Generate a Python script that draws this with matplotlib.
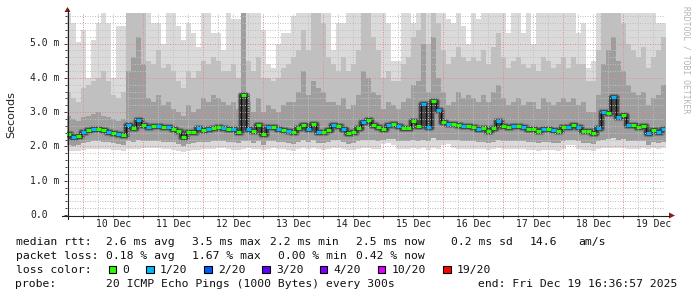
import numpy as np
import matplotlib
matplotlib.use("Agg")
import matplotlib.pyplot as plt
import matplotlib.dates as mdates
from matplotlib.patches import Rectangle, Polygon
from matplotlib.lines import Line2D
from matplotlib.transforms import blended_transform_factory
from datetime import datetime

W, H = 697, 297

# 2-hour consolidated steps (values in ms)
start = datetime(2025, 12, 9, 17, 12)
end = datetime(2025, 12, 19, 16, 37)

median = [2.35, 2.28, 2.30, 2.42, 2.47, 2.50, 2.52, 2.48, 2.43, 2.40,
          2.37, 2.32, 2.62, 2.55, 2.78, 2.62, 2.58, 2.60, 2.60, 2.57,
          2.57, 2.52, 2.45, 2.28, 2.42, 2.42, 2.55, 2.47, 2.52, 2.55,
          2.57, 2.55, 2.50, 2.52, 2.43, 3.50, 2.50, 2.45, 2.62, 2.35,
          2.57, 2.57, 2.50, 2.47, 2.45, 2.42, 2.55, 2.63, 2.52, 2.66,
          2.43, 2.43, 2.47, 2.62, 2.60, 2.52, 2.38, 2.43, 2.55, 2.72,
          2.78, 2.62, 2.57, 2.50, 2.62, 2.65, 2.60, 2.55, 2.55, 2.75,
          2.60, 3.25, 2.58, 3.33, 3.05, 2.72, 2.64, 2.64, 2.62, 2.60,
          2.60, 2.58, 2.52, 2.55, 2.45, 2.55, 2.75, 2.60, 2.57, 2.60,
          2.60, 2.57, 2.50, 2.50, 2.45, 2.52, 2.50, 2.47, 2.45, 2.57,
          2.57, 2.62, 2.57, 2.45, 2.45, 2.40, 2.55, 3.00, 2.97, 3.45,
          2.86, 2.93, 2.62, 2.62, 2.57, 2.60, 2.38, 2.48, 2.42, 2.50]

# lost pings (out of 20) per step
loss = [0, 1, 0, 1, 0, 1, 0, 0, 1, 0,
        1, 0, 1, 0, 1, 0, 1, 0, 1, 0,
        1, 0, 0, 0, 0, 0, 1, 0, 1, 0,
        0, 1, 0, 1, 0, 0, 1, 0, 0, 0,
        1, 0, 1, 0, 1, 0, 0, 0, 1, 0,
        1, 0, 0, 1, 0, 1, 0, 0, 0, 1,
        0, 0, 0, 0, 1, 0, 1, 0, 0, 0,
        0, 1, 1, 0, 1, 0, 1, 0, 0, 1,
        0, 0, 1, 0, 0, 0, 1, 0, 0, 1,
        0, 1, 0, 0, 0, 1, 0, 1, 0, 0,
        1, 0, 1, 0, 0, 0, 1, 1, 0, 1,
        1, 0, 1, 0, 0, 0, 1, 0, 1, 1]

# smoke: fastest ping, inner low, 75th / 90th pct, slowest ping
smoke_min = [1.88, 1.86, 1.88, 1.90, 1.92, 1.93, 1.93, 1.92, 1.92, 1.90,
             1.90, 1.88, 1.93, 1.92, 1.92, 1.95, 1.95, 1.94, 1.95, 1.93,
             1.93, 1.90, 1.88, 1.85, 1.87, 1.90, 1.90, 1.92, 1.93, 1.93,
             1.95, 1.94, 1.93, 1.90, 1.90, 1.93, 1.95, 1.92, 1.93, 1.90,
             1.93, 1.95, 1.92, 1.92, 1.90, 1.88, 1.92, 1.95, 1.93, 1.95,
             1.92, 1.90, 1.92, 1.95, 1.95, 1.93, 1.90, 1.90, 1.93, 1.95,
             1.95, 1.93, 1.92, 2.08, 2.10, 2.05, 1.93, 1.92, 1.92, 1.95,
             1.93, 1.95, 1.90, 1.95, 1.92, 2.05, 2.08, 1.95, 1.93, 1.92,
             1.93, 1.92, 1.92, 1.92, 1.90, 1.92, 1.95, 1.93, 1.92, 1.93,
             1.93, 1.92, 1.90, 1.90, 1.88, 1.90, 1.90, 1.90, 1.88, 1.92,
             2.05, 2.05, 1.92, 1.90, 1.90, 1.88, 1.92, 1.95, 1.95, 1.95,
             1.95, 1.95, 1.93, 1.93, 1.92, 1.95, 1.92, 1.95, 1.93, 1.95]

smoke_lo = [2.05, 2.02, 2.03, 2.10, 2.12, 2.15, 2.15, 2.14, 2.12, 2.10,
            2.08, 2.05, 2.15, 2.12, 2.20, 2.15, 2.15, 2.15, 2.15, 2.14,
            2.14, 2.12, 2.08, 2.00, 2.08, 2.10, 2.12, 2.12, 2.13, 2.15,
            2.15, 2.15, 2.12, 2.13, 2.10, 2.15, 2.15, 2.10, 2.15, 2.05,
            2.15, 2.15, 2.12, 2.12, 2.10, 2.08, 2.14, 2.18, 2.14, 2.18,
            2.10, 2.10, 2.12, 2.18, 2.18, 2.14, 2.08, 2.10, 2.15, 2.20,
            2.20, 2.18, 2.15, 2.20, 2.22, 2.22, 2.15, 2.15, 2.15, 2.20,
            2.15, 2.20, 2.15, 2.25, 2.20, 2.20, 2.20, 2.18, 2.18, 2.16,
            2.16, 2.15, 2.12, 2.14, 2.10, 2.14, 2.20, 2.15, 2.15, 2.15,
            2.15, 2.15, 2.12, 2.12, 2.10, 2.12, 2.12, 2.10, 2.10, 2.16,
            2.20, 2.20, 2.15, 2.10, 2.10, 2.08, 2.15, 2.20, 2.22, 2.25,
            2.20, 2.22, 2.15, 2.15, 2.15, 2.15, 2.05, 2.12, 2.10, 2.12]

smoke_p75 = [2.9, 2.8, 2.75, 2.85, 2.9, 2.95, 3.0, 2.9, 2.85, 2.8,
             2.75, 2.8, 4.2, 4.6, 5.2, 4.4, 3.4, 3.3, 3.5, 3.2,
             3.3, 3.1, 3.0, 2.9, 3.2, 3.0, 3.1, 3.4, 3.3, 3.5,
             3.4, 3.3, 3.2, 3.3, 3.1, 5.9, 3.3, 3.0, 3.4, 3.0,
             3.2, 3.1, 3.0, 3.2, 3.3, 3.3, 3.6, 4.2, 3.5, 3.9,
             3.7, 3.6, 3.3, 3.3, 3.2, 3.4, 3.1, 3.2, 3.5, 4.2,
             4.0, 3.6, 3.5, 3.1, 3.3, 3.2, 3.1, 3.3, 3.4, 3.8,
             3.9, 5.0, 3.6, 5.2, 4.0, 3.6, 3.2, 3.3, 3.6, 3.4,
             3.5, 3.4, 3.3, 3.5, 3.3, 3.6, 3.8, 3.4, 3.2, 3.3,
             3.4, 3.2, 3.3, 3.3, 3.1, 3.4, 3.3, 3.2, 3.3, 3.4,
             3.3, 3.4, 3.2, 3.3, 3.0, 3.0, 3.5, 4.4, 4.8, 5.2,
             4.5, 4.2, 3.8, 3.6, 3.5, 3.6, 3.2, 3.4, 3.5, 3.8]

smoke_p90 = [3.6, 3.4, 3.3, 3.7, 3.8, 3.9, 4.0, 4.2, 3.9, 3.5,
             3.4, 3.6, 5.9, 5.9, 5.9, 5.9, 4.5, 4.4, 4.8, 4.3,
             4.4, 4.2, 3.9, 3.7, 4.2, 4.0, 4.2, 4.5, 4.4, 4.6,
             4.5, 4.2, 4.2, 4.4, 4.0, 5.9, 4.5, 4.2, 4.6, 4.0,
             4.0, 3.9, 4.0, 4.3, 4.4, 4.6, 4.8, 5.4, 4.8, 5.9,
             5.9, 5.6, 4.6, 4.4, 4.2, 4.6, 4.2, 4.4, 4.8, 5.9,
             5.9, 5.2, 4.8, 4.0, 4.2, 3.9, 3.9, 4.4, 4.6, 5.2,
             5.4, 5.9, 5.0, 5.9, 5.6, 4.8, 4.4, 4.6, 4.9, 4.6,
             4.5, 4.6, 4.5, 4.8, 4.4, 4.9, 5.3, 4.6, 4.3, 4.5,
             4.6, 4.4, 4.3, 4.4, 4.2, 4.6, 4.5, 4.3, 4.4, 4.6,
             4.3, 4.6, 4.4, 4.4, 3.9, 3.9, 4.8, 5.9, 5.9, 5.9,
             5.9, 5.6, 5.0, 4.8, 4.6, 4.9, 4.3, 4.6, 4.8, 5.2]

smoke_max = [6.0, 5.6, 5.05, 5.4, 4.0, 5.1, 5.6, 6.0, 5.6, 4.0,
             5.5, 5.5, 6.0, 6.0, 6.0, 6.0, 6.0, 5.6, 5.6, 5.0,
             6.0, 6.0, 5.5, 5.1, 5.6, 5.3, 4.9, 6.0, 6.0, 5.3,
             5.3, 4.8, 6.0, 5.7, 5.7, 6.0, 6.0, 6.0, 6.0, 5.4,
             4.4, 4.3, 5.0, 5.3, 5.3, 5.8, 6.0, 6.0, 6.0, 5.6,
             5.6, 6.0, 6.0, 4.8, 5.6, 5.6, 6.0, 6.0, 6.0, 6.0,
             6.0, 6.0, 6.0, 6.0, 5.6, 4.5, 4.5, 6.0, 6.0, 5.6,
             6.0, 6.0, 6.0, 6.0, 6.0, 6.0, 5.7, 5.6, 6.0, 5.5,
             5.0, 6.0, 5.7, 6.0, 6.0, 6.0, 6.0, 6.0, 5.3, 6.0,
             6.0, 5.3, 6.0, 5.0, 6.0, 6.0, 6.0, 6.0, 6.0, 6.0,
             6.0, 6.0, 5.3, 5.6, 4.3, 4.5, 6.0, 6.0, 5.8, 6.0,
             6.0, 6.0, 6.0, 6.0, 6.0, 6.0, 6.0, 6.0, 5.6, 5.6]

day_labels = ["10 Dec", "11 Dec", "12 Dec", "13 Dec", "14 Dec",
              "15 Dec", "16 Dec", "17 Dec", "18 Dec", "19 Dec"]
y_ticks = [0, 1, 2, 3, 4, 5]
y_labels = ["0.0", "1.0 m", "2.0 m", "3.0 m", "4.0 m", "5.0 m"]

loss_steps = ["0", "1/20", "2/20", "3/20", "4/20", "10/20", "19/20"]
loss_colors = ["#26ff00", "#00b8ff", "#0059ff", "#5e00ff", "#7e00ff", "#dd00ff", "#ff0000"]
loss_color_of = {0: "#26ff00", 1: "#00b8ff", 2: "#0059ff", 3: "#5e00ff", 4: "#7e00ff"}

mono = "DejaVu Sans Mono"

fig = plt.figure(figsize=(W / 100, H / 100), dpi=100)
fig.patch.set_facecolor("white")


def fx(x):
    return x / W


def fy(y):
    return 1 - y / H


ax = fig.add_axes([fx(67), fy(215), 598 / W, 202 / H])
ax.set_facecolor("white")

t0 = mdates.date2num(start)
t = t0 + np.arange(len(median) + 1) / 12.0


def ext(a):
    return np.append(a, a[-1])


ax.fill_between(t, ext(smoke_min), ext(smoke_max), step="post", color="#dadada", lw=0, zorder=1)
ax.fill_between(t, ext(smoke_lo), ext(smoke_p90), step="post", color="#c0c0c0", lw=0, zorder=1.1)
ax.fill_between(t, ext(smoke_lo), ext(smoke_p75), step="post", color="#9e9e9e", lw=0, zorder=1.2)

# dark core of the smoke around the median
ax.step(t, ext(median), where="post", color="#7a7a7a", lw=5.2, zorder=1.3)
ax.step(t, ext(median), where="post", color="#424242", lw=3.4, zorder=1.4)

# median, coloured by loss
ax.step(t, ext(median), where="post", color="#101010", lw=0.8, zorder=3)
ax.hlines(median, t[:-1], t[1:], colors=[loss_color_of[l] for l in loss], lw=2.2, zorder=4)

ax.set_xlim(mdates.date2num(end) - 598 / 60.0, mdates.date2num(end))
ax.set_ylim(0, 202 / 34.3)

ax.xaxis.set_major_locator(mdates.DayLocator())
ax.xaxis.set_minor_locator(mdates.HourLocator(byhour=[6, 12, 18]))
ax.set_yticks(y_ticks)
ax.set_yticks(np.arange(0.2, 5.9, 0.2), minor=True)
ax.set_axisbelow(False)
ax.grid(which="major", color="#e08c8c", linestyle=(0, (1, 1.5)), lw=0.72)
ax.grid(which="minor", color="#c0c0c0", linestyle=(0, (1, 1.5)), lw=0.72)
ax.tick_params(which="both", labelleft=False, labelbottom=False, length=2.2, width=0.7, color="#404040")
ax.tick_params(which="minor", length=1.2)
for s in ax.spines.values():
    s.set_visible(False)

# axis lines with arrows
fig.add_artist(Line2D([fx(67.5), fx(67.5)], [fy(219), fy(9)], color="#202020", lw=0.8))
fig.add_artist(Line2D([fx(62), fx(669)], [fy(215.5), fy(215.5)], color="#202020", lw=0.8))
fig.add_artist(Polygon([[fx(64.5), fy(12)], [fx(70.5), fy(12)], [fx(67.5), fy(7)]], closed=True,
                       color="#8b1a1a", lw=0))
fig.add_artist(Polygon([[fx(669), fy(212.5)], [fx(669), fy(218.5)], [fx(675), fy(215.5)]], closed=True,
                       color="#8b1a1a", lw=0))

# tick labels
ytr = blended_transform_factory(fig.transFigure, ax.transData)
for v, lab in zip(y_ticks, y_labels):
    ax.text(fx(30), v, lab, transform=ytr, ha="left", va="center", family=mono, size=7, color="#202020")

xtr = blended_transform_factory(ax.transData, fig.transFigure)
for i, lab in enumerate(day_labels):
    noon = mdates.date2num(datetime(2025, 12, 10 + i, 12, 0))
    ax.text(noon, fy(224), lab, transform=xtr, ha="center", va="center", family=mono, size=7,
            color="#202020", clip_on=False)

fig.text(fx(11), fy(115), "Seconds", rotation=90, ha="center", va="center", size=8, color="#202020")
fig.text(fx(686), fy(60), "RRDTOOL / TOBI OETIKER", rotation=270, ha="center", va="center",
         family=mono, size=5.8, color="#b4b4b4")

# legend block
line1 = [(16, "median rtt:"), (107, "2.6 ms avg"), (193, "3.5 ms max"), (271, "2.2 ms min"),
         (356.5, "2.5 ms now"), (451.5, "0.2 ms sd"), (530.5, "14.6"), (579, "am/s")]
line2 = [(16, "packet loss:"), (107, "0.18 % avg"), (193, "1.67 % max"), (279, "0.00 % min"),
         (356.5, "0.42 % now")]
line4 = [(16, "probe:"), (107, "20 ICMP Echo Pings (1000 Bytes) every 300s"),
         (478, "end: Fri Dec 19 16:36:57 2025")]
for base, items in [(245, line1), (259, line2), (287, line4)]:
    for x, s in items:
        fig.text(fx(x - 0.5), fy(base), s, ha="left", va="baseline", family=mono, size=8.2, color="#101010")

fig.text(fx(15.5), fy(273), "loss color:", ha="left", va="baseline", family=mono, size=8.2, color="#101010")
box_x = [108.5, 146, 204, 262, 319.5, 377.5, 443]
for bx, lab, c in zip(box_x, loss_steps, loss_colors):
    fig.add_artist(Rectangle((fx(bx), fy(273)), 7.5 / W, 7.5 / H, facecolor=c, edgecolor="#000000", lw=0.8))
    fig.text(fx(bx + 14), fy(273), lab, ha="left", va="baseline", family=mono, size=8.2, color="#101010")

fig.savefig("out.png", dpi=100, facecolor="white")
